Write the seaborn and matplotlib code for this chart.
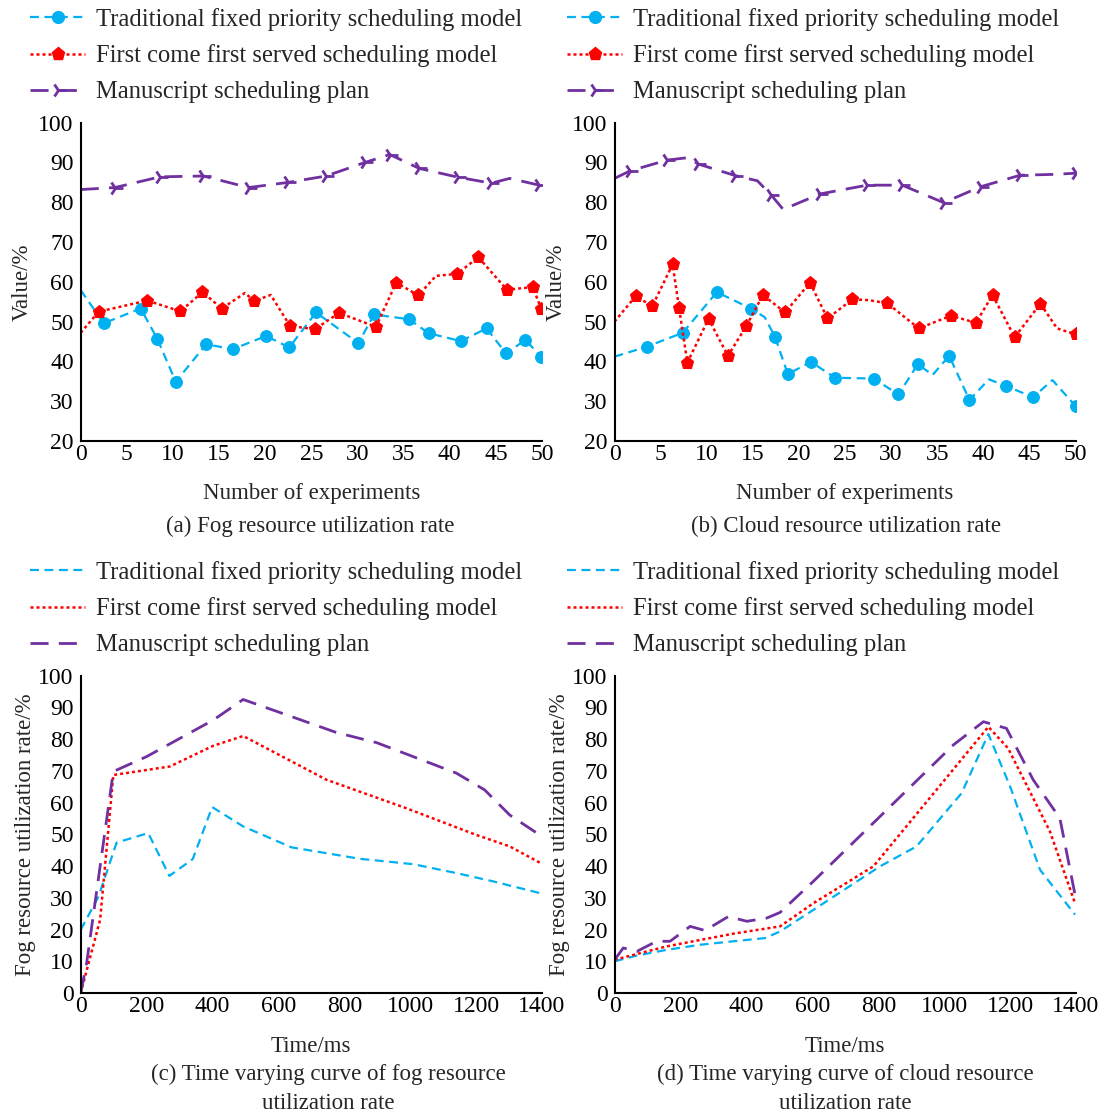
import numpy as np
import pandas as pd
import matplotlib
matplotlib.use("Agg")
import matplotlib.pyplot as plt
from matplotlib.lines import Line2D
import seaborn as sns

sns.set_theme(style="white")
plt.rcParams['font.family'] = ['Liberation Serif', 'DejaVu Serif']
plt.rcParams['mathtext.fontset'] = 'stix'

# ---------------- data ----------------
labels = ["Traditional fixed priority scheduling model",
          "First come first served scheduling model",
          "Manuscript scheduling plan"]

# (a) Fog resource utilization rate
a_blue_x = [0, 2.5, 6.5, 8.3, 10.3, 13.6, 16.5, 20.1, 22.6, 25.5, 30.1, 31.8, 35.6, 37.7, 41.2, 44.0, 46.1, 48.2, 49.9]
a_blue_y = [57.9, 49.6, 53.3, 45.7, 34.9, 44.3, 43.1, 46.4, 43.5, 52.3, 44.6, 51.8, 50.6, 47.1, 45.1, 48.3, 42.0, 45.4, 41.2]
a_blue_m = [1, 2, 3, 4, 5, 6, 7, 8, 9, 10, 11, 12, 13, 14, 15, 16, 17, 18]

a_red_x = [0, 1.95, 7.2, 10.8, 13.2, 15.3, 17.8, 18.8, 20.6, 22.7, 25.4, 28.0, 32.0, 34.2, 36.6, 38.5, 40.8, 43.1, 46.2, 49.0, 49.9]
a_red_y = [47.2, 52.5, 55.3, 52.6, 57.4, 53.3, 57.2, 55.2, 56.7, 48.9, 48.1, 52.2, 48.7, 59.8, 56.6, 61.5, 62.0, 66.2, 58.0, 58.7, 53.3]
a_red_m = [1, 2, 3, 4, 5, 7, 9, 10, 11, 12, 13, 14, 16, 17, 18, 19, 20]

a_pur_x = [0, 3.7, 8.6, 13.3, 18.2, 22.5, 26.6, 30.8, 33.5, 36.7, 40.9, 44.5, 46.5, 49.7]
a_pur_y = [83.2, 83.7, 86.4, 86.6, 83.7, 85.0, 86.6, 90.0, 92.0, 88.5, 86.3, 84.8, 86.0, 84.3]
a_pur_m = [1, 2, 3, 4, 5, 6, 7, 8, 9, 10, 11, 13]

# (b) Cloud resource utilization rate
b_blue_x = [0, 3.5, 7.4, 11.1, 14.8, 16.3, 17.4, 18.8, 21.3, 23.9, 28.1, 30.8, 32.9, 34.5, 36.3, 38.5, 40.6, 42.5, 45.4, 47.5, 50.0]
b_blue_y = [41.2, 43.7, 47.2, 57.4, 53.3, 51.1, 46.2, 36.8, 39.9, 35.9, 35.7, 31.7, 39.3, 36.6, 41.4, 30.3, 35.5, 33.8, 31.0, 35.3, 28.8]
b_blue_m = [1, 2, 3, 4, 6, 7, 8, 9, 10, 11, 12, 14, 15, 17, 18, 20]

b_red_x = [0, 2.3, 4.1, 6.3, 7.0, 7.9, 10.2, 12.3, 14.3, 16.1, 18.5, 21.2, 23.1, 25.8, 27.6, 29.6, 33.0, 36.5, 39.2, 41.0, 43.4, 46.2, 48.0, 50.0]
b_red_y = [50.0, 56.4, 53.9, 64.4, 53.5, 39.7, 50.7, 41.4, 48.9, 56.7, 52.3, 59.8, 50.8, 55.6, 55.4, 54.6, 48.3, 51.5, 49.7, 56.7, 46.1, 54.5, 48.3, 46.8]
b_red_m = [1, 2, 3, 4, 5, 6, 7, 8, 9, 10, 11, 12, 13, 15, 16, 17, 18, 19, 20, 21, 23]

b_pur_x = [0, 1.7, 5.7, 7.9, 9.1, 13.1, 15.5, 17.0, 18.3, 22.3, 27.4, 31.2, 35.7, 39.7, 44.0, 47.5, 50.0]
b_pur_y = [86.0, 87.9, 90.6, 91.2, 89.6, 86.7, 85.4, 81.8, 78.2, 82.1, 84.3, 84.3, 79.9, 83.9, 86.8, 87.0, 87.3]
b_pur_m = [1, 2, 4, 5, 7, 9, 10, 11, 12, 13, 14, 16]

# (c) Time varying curve of fog resource utilization rate
c_blue_x = [0, 54, 109, 205, 269, 340, 399, 493, 640, 847, 1009, 1140, 1251, 1393]
c_blue_y = [19.9, 30.4, 47.4, 50.4, 36.9, 42.2, 58.6, 52.5, 45.9, 42.3, 40.6, 37.8, 35.2, 31.5]
c_red_x = [0, 59, 99, 271, 402, 493, 746, 989, 1201, 1302, 1400]
c_red_y = [0, 23.1, 68.7, 71.4, 77.9, 81.0, 67.2, 58.2, 49.8, 46.2, 40.7]
c_pur_x = [0, 18, 99, 200, 402, 493, 776, 898, 1140, 1226, 1302, 1393]
c_pur_y = [0, 9.4, 69.8, 74.5, 86.0, 92.5, 82.1, 78.9, 69.3, 64.0, 56.1, 49.8]

# (d) Time varying curve of cloud resource utilization rate
d_blue_x = [0, 67, 158, 259, 360, 456, 502, 603, 805, 916, 1053, 1134, 1200, 1291, 1397]
d_blue_y = [10.0, 11.8, 13.6, 15.2, 16.3, 17.3, 19.4, 26.2, 39.9, 46.2, 63.0, 81.6, 65.1, 38.8, 24.7]
d_red_x = [0, 158, 360, 502, 603, 785, 997, 1134, 1194, 1321, 1397]
d_red_y = [10.5, 14.7, 18.7, 21.0, 28.3, 39.9, 66.6, 83.9, 77.1, 50.9, 28.3]
d_pur_x = [0, 26, 67, 127, 168, 229, 274, 345, 401, 461, 502, 603, 795, 1028, 1119, 1189, 1270, 1351, 1397]
d_pur_y = [10.5, 14.2, 13.1, 16.3, 16.3, 21.0, 19.7, 24.1, 22.6, 23.6, 25.4, 35.2, 54.6, 78.2, 85.5, 83.4, 67.2, 55.1, 31.0]

captions = ["(a) Fog resource utilization rate",
            "(b) Cloud resource utilization rate",
            "(c) Time varying curve of fog resource\nutilization rate",
            "(d) Time varying curve of cloud resource\nutilization rate"]

# ---------------- style ----------------
BLUE = "#00B0F0"
RED = "#FF0000"
PURPLE = "#7030A0"
ls_blue = (0, (4, 2.5))
ls_red = (0, (1.2, 1.2))
ls_pur = (0, (6.5, 3.7))
FS = 16.5       # axis labels / captions
FS_TICK = 17
FS_LEG = 17.7

W, H = 1105, 1119
fig = plt.figure(figsize=(W / 100, H / 100), dpi=100)

def rect(l, r, t, b):
    return [l / W, 1 - b / H, (r - l) / W, (b - t) / H]

ax_a = fig.add_axes(rect(80.7, 542, 122.7, 441))
ax_b = fig.add_axes(rect(614.5, 1075.5, 122.7, 441))
ax_c = fig.add_axes(rect(80.7, 542, 675.7, 993))
ax_d = fig.add_axes(rect(614.7, 1076, 675.7, 993))

MS_O, MS_P, MS_T, MEW_T = 8.5, 9.5, 11, 2.0

def draw(ax, x, y, color, ls, lw, marker=None, ms=None, mev=None, mew=None):
    df = pd.DataFrame({"x": x, "y": y})
    kw = dict(color=color, linestyle=ls, linewidth=lw)
    if marker is not None:
        kw.update(marker=marker, markersize=ms, markevery=mev,
                  markerfacecolor=color, markeredgecolor=color)
        if mew is not None:
            kw["markeredgewidth"] = mew
    sns.lineplot(data=df, x="x", y="y", ax=ax, sort=False, estimator=None,
                 errorbar=None, legend=False, **kw)

draw(ax_a, a_blue_x, a_blue_y, BLUE, ls_blue, 1.6, "o", MS_O, a_blue_m)
draw(ax_a, a_red_x, a_red_y, RED, ls_red, 1.8, "p", MS_P, a_red_m)
draw(ax_a, a_pur_x, a_pur_y, PURPLE, ls_pur, 2.0, "4", MS_T, a_pur_m, MEW_T)

draw(ax_b, b_blue_x, b_blue_y, BLUE, ls_blue, 1.6, "o", MS_O, b_blue_m)
draw(ax_b, b_red_x, b_red_y, RED, ls_red, 1.8, "p", MS_P, b_red_m)
draw(ax_b, b_pur_x, b_pur_y, PURPLE, ls_pur, 2.0, "4", MS_T, b_pur_m, MEW_T)

draw(ax_c, c_blue_x, c_blue_y, BLUE, ls_blue, 1.6)
draw(ax_c, c_red_x, c_red_y, RED, ls_red, 1.8)
draw(ax_c, c_pur_x, c_pur_y, PURPLE, ls_pur, 2.0)

draw(ax_d, d_blue_x, d_blue_y, BLUE, ls_blue, 1.6)
draw(ax_d, d_red_x, d_red_y, RED, ls_red, 1.8)
draw(ax_d, d_pur_x, d_pur_y, PURPLE, ls_pur, 2.0)

for ax in (ax_a, ax_b):
    ax.set_xlim(0, 50)
    ax.set_ylim(20, 100)
    ax.set_xticks(np.arange(0, 51, 5))
    ax.set_yticks(np.arange(20, 101, 10))
    ax.set_xlabel("Number of experiments", fontsize=FS, labelpad=13)
    ax.set_ylabel("Value/%", fontsize=FS, labelpad=4)
for ax in (ax_c, ax_d):
    ax.set_xlim(0, 1400)
    ax.set_ylim(0, 100)
    ax.set_xticks(np.arange(0, 1401, 200))
    ax.set_yticks(np.arange(0, 101, 10))
    ax.set_xlabel("Time/ms", fontsize=FS, labelpad=13.5)
    ax.set_ylabel("Fog resource utilization rate/%", fontsize=FS, labelpad=2)

for ax in (ax_a, ax_b, ax_c, ax_d):
    ax.set_facecolor("white")
    for s in ("top", "right"):
        ax.spines[s].set_visible(False)
    for s in ("left", "bottom"):
        ax.spines[s].set_color("black")
        ax.spines[s].set_linewidth(1.5)
    ax.tick_params(axis="both", direction="in", length=6, width=1.5,
                   colors="black", labelsize=FS_TICK, pad=2)
    ax.tick_params(axis="y", pad=5)
    ax.grid(False)

# legends
def handles(with_markers):
    if with_markers:
        return [Line2D([], [], color=BLUE, linestyle=ls_blue, lw=1.6, marker="o", ms=MS_O),
                Line2D([], [], color=RED, linestyle=ls_red, lw=1.8, marker="p", ms=MS_P),
                Line2D([], [], color=PURPLE, linestyle=ls_pur, lw=2.0, marker="4", ms=MS_T, mew=MEW_T)]
    return [Line2D([], [], color=BLUE, linestyle=ls_blue, lw=1.6),
            Line2D([], [], color=RED, linestyle=ls_red, lw=1.8),
            Line2D([], [], color=PURPLE, linestyle=ls_pur, lw=2.0)]

def add_legend(ax, hx, ty, with_markers):
    return ax.legend(handles(with_markers), labels, loc="upper left",
                     bbox_to_anchor=(hx / W, 1 - ty / H), bbox_transform=fig.transFigure,
                     frameon=False, fontsize=FS_LEG, handlelength=2.25, handletextpad=0.42,
                     labelspacing=0.55, numpoints=1, borderaxespad=0, borderpad=0)

add_legend(ax_a, 30, 8, True)
add_legend(ax_b, 567, 8, True)
add_legend(ax_c, 30, 561, False)
add_legend(ax_d, 567, 561, False)

# captions
fig.text(310 / W, 1 - 526 / H, captions[0], ha="center", va="center", fontsize=FS)
fig.text(846 / W, 1 - 526 / H, captions[1], ha="center", va="center", fontsize=FS)
fig.text(328 / W, 1 - 1089 / H, captions[2], ha="center", va="center", fontsize=FS, linespacing=1.55)
fig.text(845 / W, 1 - 1089 / H, captions[3], ha="center", va="center", fontsize=FS, linespacing=1.55)

fig.savefig("out.png", dpi=100, facecolor="white")
